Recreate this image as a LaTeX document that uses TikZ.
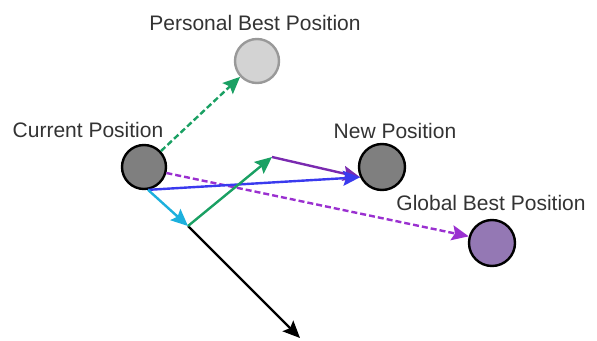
\documentclass[tikz,border=0pt]{standalone}
\usepackage{fontspec}
\setmainfont{Liberation Sans}
\usetikzlibrary{arrows.meta}
\definecolor{txt}{HTML}{333333}
\definecolor{pgreen}{HTML}{1AA063}
\definecolor{pcyan}{HTML}{1CB0DD}
\definecolor{pblue}{HTML}{3A3AEE}
\definecolor{ppurple}{HTML}{7A2AB0}
\definecolor{pdash}{HTML}{9A30D0}
\definecolor{gbfill}{HTML}{9478B4}
\definecolor{darkfill}{HTML}{7F7F7F}
\definecolor{lightfill}{HTML}{D3D3D3}
\definecolor{lightedge}{HTML}{999999}
\begin{document}
\begin{tikzpicture}[x=1pt,y=-1pt,
  ball/.style={circle,draw=black,line width=2.4pt,fill=darkfill,inner sep=0pt,minimum size=44pt},
  lbl/.style={text=txt,anchor=base,inner sep=0pt,font=\fontsize{21}{24}\selectfont},
  arr/.style={line width=2.4pt,-{Stealth[length=17pt,width=15pt,inset=3pt]}},
  dsh/.style={arr,dash pattern=on 6pt off 3pt}]
\useasboundingbox (0,0) rectangle (597,340);
\node[ball,draw=lightedge,fill=lightfill] (pb) at (257,61) {};
\node[ball] (cur) at (144,167) {};
\node[ball,minimum size=46pt] (new) at (382,167) {};
\node[ball,fill=gbfill,minimum size=46pt] (gb) at (492,243) {};
\node[lbl] (lpb) at (255,30) {Personal Best Position};
\node[lbl] (lcur) at (88,137) {Current Position};
\node[lbl] (lnew) at (395,138) {New Position};
\node[lbl] (lgb) at (491,210) {Global Best Position};
\coordinate (A) at (188,226);
\coordinate (B) at (272,157);
\coordinate (C) at (300,338);
\draw[dsh,pgreen] (cur) -- (pb);
\draw[dsh,pdash] (cur.-15) -- (gb.164);
\draw[arr,ppurple] (B) -- (new.205);
\draw[arr,pblue] (cur.-80) -- (new.205);
\draw[arr,black] (A) -- (C);
\draw[arr,pgreen] (A) -- (B);
\draw[arr,pcyan] (cur.-80) -- (A);
\end{tikzpicture}
\end{document}
